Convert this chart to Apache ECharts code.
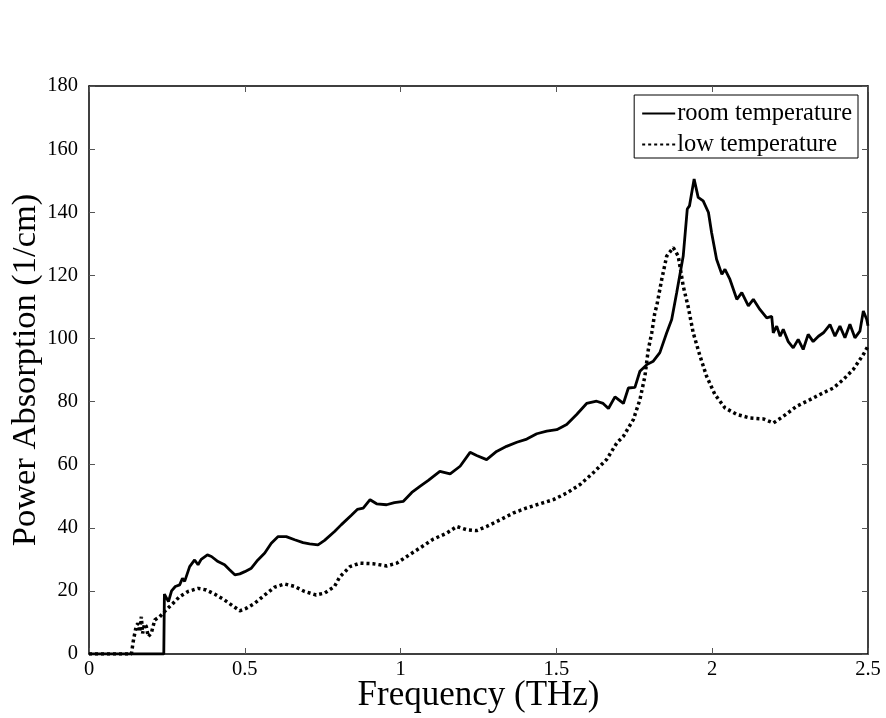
<!DOCTYPE html>
<html>
<head>
<meta charset="utf-8">
<script src="https://cdn.jsdelivr.net/npm/echarts@6/dist/echarts.min.js"></script>
<style>
html,body{margin:0;padding:0;background:#fff;}
#chart{width:886px;height:718px;}
</style>
</head>
<body>
<div id="chart"></div>
<script>
const xTicks = [0, 0.5, 1, 1.5, 2, 2.5];
const yTicks = [0, 20, 40, 60, 80, 100, 120, 140, 160, 180];

const roomFreq = [0,0.24,0.242,0.255,0.265,0.277,0.291,0.3,0.307,0.323,0.339,0.35,0.36,0.38,0.393,0.414,0.435,0.451,0.468,0.484,0.5,0.521,0.542,0.564,0.585,0.607,0.633,0.66,0.687,0.708,0.735,0.756,0.788,0.81,0.842,0.861,0.88,0.902,0.923,0.955,0.98,1.009,1.036,1.062,1.089,1.126,1.159,1.191,1.223,1.244,1.276,1.308,1.34,1.373,1.405,1.437,1.469,1.501,1.533,1.565,1.597,1.629,1.65,1.667,1.688,1.715,1.731,1.752,1.768,1.79,1.811,1.832,1.854,1.87,1.886,1.907,1.92,1.927,1.942,1.955,1.971,1.988,1.998,2.014,2.031,2.041,2.057,2.079,2.095,2.116,2.132,2.153,2.175,2.191,2.196,2.207,2.218,2.228,2.244,2.26,2.276,2.292,2.308,2.324,2.341,2.357,2.378,2.394,2.41,2.426,2.442,2.458,2.474,2.485,2.496,2.5];
const roomVal = [0,0,19,16.6,20,21.4,21.9,24,23,27.7,29.8,28.3,30,31.4,30.9,29.3,28.3,26.7,25.1,25.4,26.1,27.2,29.8,32,35.1,37.2,37.2,36.2,35.3,34.9,34.6,36,38.8,41,44,45.8,46.2,48.9,47.6,47.3,48,48.4,51.2,53.1,55,57.9,57.1,59.5,63.9,62.9,61.6,64.2,65.8,67.1,68.1,69.8,70.6,71.1,72.7,75.9,79.4,80.1,79.4,77.8,81.5,79.4,84.3,84.5,89.6,91.7,92.8,95.5,101.8,106,114.5,126.1,141,142,150.5,144.7,143.6,139.9,133.6,125.1,120.3,121.9,118.7,112.4,114.5,110.3,112.4,109.2,106.5,107,101.8,103.9,100.7,102.9,99,97,99.7,96.5,101.3,99,100.7,101.8,104.4,100.7,103.9,100.2,104.5,100.2,102.3,108.7,106,104];

const lowFreq = [0,0.136,0.142,0.147,0.152,0.157,0.162,0.168,0.172,0.178,0.184,0.19,0.2,0.211,0.227,0.248,0.27,0.291,0.318,0.35,0.376,0.403,0.435,0.468,0.484,0.505,0.532,0.564,0.596,0.628,0.66,0.692,0.729,0.756,0.788,0.805,0.838,0.87,0.912,0.955,0.988,1.02,1.062,1.105,1.148,1.18,1.212,1.244,1.276,1.319,1.362,1.405,1.447,1.49,1.533,1.576,1.618,1.661,1.694,1.715,1.747,1.768,1.784,1.795,1.806,1.816,1.822,1.838,1.854,1.875,1.891,1.907,1.923,1.939,1.961,1.982,2.009,2.041,2.079,2.121,2.164,2.196,2.228,2.271,2.314,2.357,2.389,2.421,2.453,2.485,2.5];
const lowVal = [0,0,4,6.6,9,9.7,7,11.8,6.5,9.5,8.7,5.5,6.6,10.8,11.8,14,16.1,18.2,19.8,20.8,20.3,19,17.1,14.8,13.7,14.5,16.1,18.7,21.2,22.2,21.4,19.8,18.7,19.3,21.4,24.5,27.7,28.8,28.6,27.9,28.8,30.9,33.6,36.4,38.3,40.4,39.4,39.1,40.4,42.5,44.7,46.3,47.6,48.9,51,53.7,57.4,61.6,66.9,69,74.3,80.6,88,96.5,101.8,108.2,110.3,118.7,126.1,128.8,126.1,116.6,110,101.8,94.4,88,82.2,78,75.9,74.8,74.5,73.2,75.3,78.5,80.6,82.8,84.3,87,90.2,94.9,97.6];

const seriesNames = ['room temperature', 'low temperature'];

const zip = (a, b) => a.map((v, i) => [v, b[i]]);
const font = '"Liberation Serif", "Times New Roman", serif';

const chart = echarts.init(document.getElementById('chart'), null, {renderer: 'canvas'});

const baseX = {
  type: 'value', min: xTicks[0], max: xTicks[xTicks.length - 1], interval: 0.5,
  splitLine: {show: false},
  axisLine: {show: true, onZero: false, lineStyle: {color: '#000', width: 1.5}},
  axisTick: {show: true, inside: true, length: 6, lineStyle: {color: '#555', width: 1}}
};
const baseY = {
  type: 'value', min: yTicks[0], max: yTicks[yTicks.length - 1], interval: 20,
  splitLine: {show: false},
  axisLine: {show: true, onZero: false, lineStyle: {color: '#000', width: 1.5}},
  axisTick: {show: true, inside: true, length: 6, lineStyle: {color: '#555', width: 1}}
};

chart.setOption({
  backgroundColor: '#fff',
  animation: false,
  grid: {left: 89, right: 18, top: 86, bottom: 64, containLabel: false, outerBoundsMode: 'none'},
  legend: {
    right: 28, top: 95,
    orient: 'vertical',
    backgroundColor: '#fff',
    borderColor: '#000', borderWidth: 1,
    padding: [6, 6, 1, 7],
    itemGap: 6,
    itemWidth: 33, itemHeight: 20,
    itemStyle: {opacity: 0},
    textStyle: {fontFamily: font, fontSize: 24.5, color: '#000', padding: [0, 0, 0, -3]},
    data: seriesNames
  },
  xAxis: [
    Object.assign({}, baseX, {
      position: 'bottom',
      name: 'Frequency (THz)', nameLocation: 'middle', nameGap: 24, nameMoveOverlap: false,
      nameTextStyle: {fontFamily: font, fontSize: 35, color: '#000'},
      axisLabel: {show: true, fontFamily: font, fontSize: 20.5, color: '#000', margin: 5,
        formatter: v => String(v)}
    }),
    Object.assign({}, baseX, {position: 'top', axisLabel: {show: false}})
  ],
  yAxis: [
    Object.assign({}, baseY, {
      position: 'left',
      name: 'Power Absorption (1/cm)', nameLocation: 'middle', nameGap: 46, nameMoveOverlap: false,
      nameTextStyle: {fontFamily: font, fontSize: 34.5, color: '#000'},
      axisLabel: {show: true, fontFamily: font, fontSize: 20.5, color: '#000', margin: 11}
    }),
    Object.assign({}, baseY, {position: 'right', axisLabel: {show: false}})
  ],
  series: [
    {
      name: seriesNames[0], type: 'line', xAxisIndex: 0, yAxisIndex: 0,
      data: zip(roomFreq, roomVal),
      symbol: 'none', smooth: false,
      lineStyle: {color: '#000', width: 2.8, type: 'solid'},
      itemStyle: {color: '#000'},
      z: 3
    },
    {
      name: seriesNames[1], type: 'line', xAxisIndex: 0, yAxisIndex: 0,
      data: zip(lowFreq, lowVal),
      symbol: 'none', smooth: false,
      lineStyle: {color: '#000', width: 3.5, type: [3, 3]},
      itemStyle: {color: '#000'},
      z: 2
    }
  ]
});
</script>
</body>
</html>
